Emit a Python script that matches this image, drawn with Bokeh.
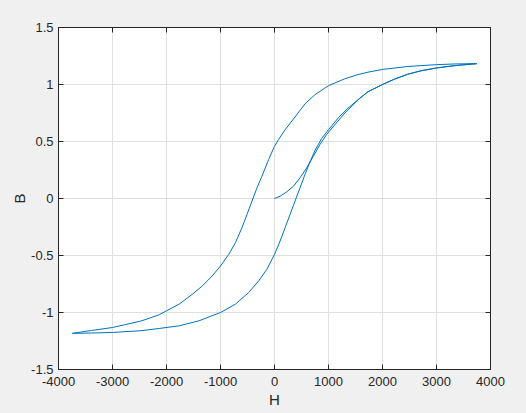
from bokeh.plotting import figure
from bokeh.models import LinearAxis, FixedTicker, CustomJSTickFormatter, Range1d
from bokeh.embed import file_html
from bokeh.resources import INLINE

# Initial magnetization curve (H, B)
init_H = [0, 104, 227, 350, 472, 595, 718, 840, 963, 1117, 1301, 1546, 1730, 2000, 2221, 2466,
          2711, 3000, 3325, 3745]
init_B = [0, 0.02, 0.058, 0.108, 0.181, 0.268, 0.37, 0.472, 0.56, 0.647, 0.749, 0.866, 0.936, 1.0,
          1.047, 1.09, 1.12, 1.145, 1.165, 1.183]

# Descending branch
desc_H = [3745, 3325, 3000, 2466, 2000, 1730, 1546, 1301, 1000, 748, 564, 380, 196, 74, 0,
          -110, -233, -325, -417, -509, -601, -724, -847, -1000, -1153, -1337, -1521, -1767,
          -2000, -2135, -2474, -2780, -3005, -3390, -3745]
desc_B = [1.183, 1.18, 1.174, 1.158, 1.132, 1.108, 1.087, 1.05, 0.99, 0.91, 0.83, 0.715, 0.603,
          0.516, 0.458, 0.341, 0.195, 0.093, -0.023, -0.14, -0.255, -0.388, -0.49, -0.592, -0.679,
          -0.767, -0.84, -0.927, -0.985, -1.02, -1.075, -1.108, -1.132, -1.158, -1.183]

# Ascending branch
asc_H = [-3745, -3390, -3005, -2474, -2135, -1767, -1399, -1000, -724, -479, -294, -141, 0, 104,
         196, 288, 380, 472, 564, 656, 748, 871, 1000, 1178, 1362, 1546, 1730, 2000, 2221, 2466,
         2711, 3000, 3325, 3745]
asc_B = [-1.183, -1.18, -1.175, -1.16, -1.14, -1.117, -1.073, -1.0, -0.927, -0.825, -0.723,
         -0.621, -0.49, -0.373, -0.257, -0.14, -0.023, 0.093, 0.21, 0.32, 0.42, 0.525, 0.603,
         0.706, 0.793, 0.866, 0.936, 1.0, 1.047, 1.09, 1.12, 1.145, 1.165, 1.183]

x_ticks = [-4000, -3000, -2000, -1000, 0, 1000, 2000, 3000, 4000]
y_ticks = [-1.5, -1, -0.5, 0, 0.5, 1, 1.5]

FONT = "Liberation Sans"
TXT = "#262626"
LINE = "#0072BD"

p = figure(width=522, height=410, x_range=Range1d(-4000, 4000), y_range=Range1d(-1.5, 1.5),
           output_backend="svg", toolbar_location=None,
           min_border_left=58, min_border_right=32, min_border_top=27, min_border_bottom=40,
           background_fill_color="white", border_fill_color="#f0f0f0",
           outline_line_color=TXT, outline_line_width=1)

fmt = CustomJSTickFormatter(code="return tick.toString();")

def style(ax, ticks, show_labels=True):
    ax.ticker = FixedTicker(ticks=ticks)
    ax.formatter = fmt
    ax.major_tick_in = 5
    ax.major_tick_out = 0
    ax.major_tick_line_color = TXT
    ax.minor_tick_line_color = None
    ax.axis_line_color = TXT
    ax.major_label_text_font = FONT
    ax.major_label_text_font_size = "13px"
    ax.major_label_standoff = 5
    ax.axis_label_text_font = FONT
    ax.axis_label_text_font_style = "normal"
    ax.axis_label_text_color = TXT
    ax.axis_label_text_font_size = "15px"
    if show_labels:
        ax.major_label_text_color = TXT
    else:
        ax.major_label_text_color = None

style(p.xaxis[0], x_ticks)
style(p.yaxis[0], y_ticks)
p.xaxis[0].axis_label = "H"
p.yaxis[0].axis_label = "B"
p.xaxis[0].major_label_standoff = 7
p.xaxis[0].axis_label_standoff = 2
p.yaxis[0].axis_label_standoff = 0

top = LinearAxis()
style(top, x_ticks, show_labels=False)
p.add_layout(top, "above")
right = LinearAxis()
style(right, y_ticks, show_labels=False)
p.add_layout(right, "right")

p.xgrid.ticker = FixedTicker(ticks=x_ticks)
p.ygrid.ticker = FixedTicker(ticks=y_ticks)
p.xgrid.grid_line_color = "#dfdfdf"
p.ygrid.grid_line_color = "#dfdfdf"

p.line(init_H, init_B, line_color=LINE, line_width=1)
p.line(desc_H, desc_B, line_color=LINE, line_width=1)
p.line(asc_H, asc_B, line_color=LINE, line_width=1)

html = file_html(p, INLINE)
html = html.replace("</head>", "<style>html,body{background-color:#f0f0f0;}</style></head>", 1)
open("out.html", "w").write(html)
